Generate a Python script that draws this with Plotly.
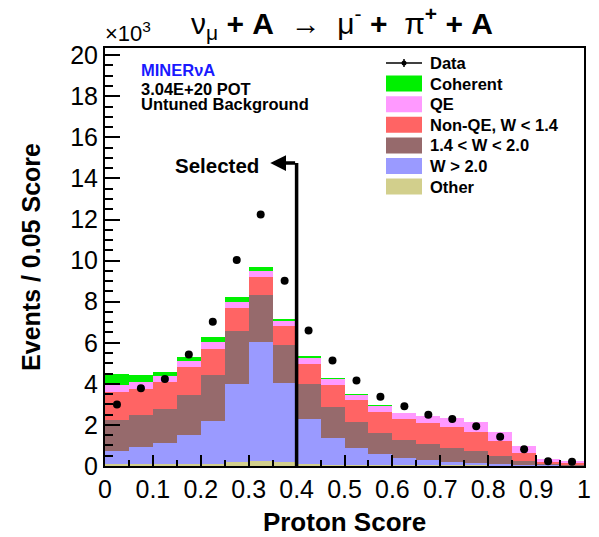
import plotly.graph_objects as go

# ---- data (values in units of 10^3 events per 0.05 score) ----
bin_centers = [0.025, 0.075, 0.125, 0.175, 0.225, 0.275, 0.325, 0.375, 0.425, 0.475,
               0.525, 0.575, 0.625, 0.675, 0.725, 0.775, 0.825, 0.875, 0.925, 0.975]
bin_width = 0.05

other =      [0.08, 0.08, 0.08, 0.10, 0.12, 0.18, 0.25, 0.18, 0.10, 0.07,
              0.06, 0.05, 0.05, 0.04, 0.04, 0.03, 0.03, 0.02, 0.02, 0.02]
w_gt_20 =    [0.65, 0.86, 1.06, 1.41, 2.09, 3.80, 5.81, 3.85, 2.21, 1.31,
              0.83, 0.54, 0.36, 0.25, 0.16, 0.10, 0.05, 0.04, 0.03, 0.02]
w_14_20 =    [1.51, 1.55, 1.64, 1.95, 2.23, 2.61, 2.25, 1.87, 1.69, 1.51,
              1.26, 1.04, 0.86, 0.78, 0.69, 0.60, 0.42, 0.18, 0.08, 0.05]
nonqe_lt14 = [1.34, 1.27, 1.30, 1.35, 1.28, 1.10, 0.89, 0.90, 0.98, 1.06,
              1.04, 1.00, 1.02, 1.03, 1.01, 0.94, 0.70, 0.39, 0.08, 0.08]
qe =         [0.37, 0.32, 0.28, 0.29, 0.31, 0.31, 0.31, 0.27, 0.29, 0.31,
              0.29, 0.30, 0.31, 0.32, 0.43, 0.46, 0.47, 0.35, 0.12, 0.07]
coherent =   [0.54, 0.33, 0.23, 0.22, 0.23, 0.21, 0.16, 0.10, 0.04, 0.02,
              0.01, 0.01, 0.00, 0.00, 0.00, 0.00, 0.00, 0.00, 0.00, 0.00]
data_vals =  [2.99, 3.79, 4.24, 5.43, 7.02, 10.03, 12.24, 9.02, 6.60, 5.14,
              4.16, 3.37, 2.91, 2.49, 2.29, 1.94, 1.43, 0.81, 0.23, 0.21]

components = [
    ("Other", other, "#d2cf8c"),
    ("W > 2.0", w_gt_20, "#9a9aff"),
    ("1.4 < W < 2.0", w_14_20, "#966a6c"),
    ("Non-QE, W < 1.4", nonqe_lt14, "#ff6464"),
    ("QE", qe, "#ff99ff"),
    ("Coherent", coherent, "#00f000"),
]
legend_order = ["Coherent", "QE", "Non-QE, W < 1.4", "1.4 < W < 2.0", "W > 2.0", "Other"]

cut_value = 0.4
arrow_end = 0.345
arrow_height = 14.75

FONT = "Liberation Sans, Arial, Helvetica, sans-serif"

fig = go.Figure()
for name, vals, col in components:
    fig.add_trace(go.Bar(x=bin_centers, y=vals, width=bin_width, name=name,
                         marker=dict(color=col, line=dict(width=0)),
                         showlegend=False))

fig.add_trace(go.Scatter(x=bin_centers, y=data_vals, mode="markers", name="Data",
                         marker=dict(color="black", size=8), showlegend=False))

# selection line + arrow
fig.add_shape(type="line", x0=cut_value, x1=cut_value, y0=0, y1=arrow_height,
              xref="x", yref="y", line=dict(color="black", width=3.5))
fig.add_annotation(x=arrow_end, y=arrow_height, ax=cut_value, ay=arrow_height,
                   xref="x", yref="y", axref="x", ayref="y", text="",
                   showarrow=True, arrowhead=2, arrowsize=0.9, arrowwidth=3.5,
                   arrowcolor="black")
fig.add_annotation(x=arrow_end - 0.02, y=arrow_height - 0.1, xref="x", yref="y",
                   text="<b>Selected</b>", showarrow=False, xanchor="right",
                   yanchor="middle", font=dict(size=20.5, color="black", family=FONT))

# manual legend (pixel positions via paper coords)
W, H = 599, 537
ml, mr, mt, mb = 105, 15, 48, 71
pw, ph = W - ml - mr, H - mt - mb

def px(xp):
    return (xp - ml) / pw

def py(yp):
    return 1 - (yp - mt) / ph

leg_x0, leg_x1, txt_x = 386, 422, 428
row0, dy = 63, 20.6
LEGFS = 16.5
# Data entry
fig.add_shape(type="line", xref="paper", yref="paper", x0=px(leg_x0), x1=px(leg_x1),
              y0=py(row0), y1=py(row0), line=dict(color="black", width=1.5))
fig.add_shape(type="line", xref="paper", yref="paper", x0=px(404), x1=px(404),
              y0=py(row0 - 4), y1=py(row0 + 4), line=dict(color="black", width=1.5))
fig.add_shape(type="circle", xref="paper", yref="paper", x0=px(401.5), x1=px(406.5),
              y0=py(row0 - 2.5), y1=py(row0 + 2.5), fillcolor="black",
              line=dict(color="black", width=0))
fig.add_annotation(x=px(txt_x), y=py(row0), xref="paper", yref="paper", text="<b>Data</b>",
                   showarrow=False, xanchor="left", yanchor="middle",
                   font=dict(size=LEGFS, color="black", family=FONT))
colmap = {n: c for n, _, c in components}
for i, name in enumerate(legend_order):
    yc = row0 + dy * (i + 1)
    fig.add_shape(type="rect", xref="paper", yref="paper", x0=px(leg_x0), x1=px(leg_x1),
                  y0=py(yc - 8), y1=py(yc + 8), fillcolor=colmap[name],
                  line=dict(width=0))
    fig.add_annotation(x=px(txt_x), y=py(yc), xref="paper", yref="paper",
                       text="<b>%s</b>" % name.replace("<", "&lt;").replace(">", "&gt;"),
                       showarrow=False, xanchor="left", yanchor="middle",
                       font=dict(size=LEGFS, color="black", family=FONT))

# info text
fig.add_annotation(x=px(139), y=py(70), xref="paper", yref="paper", text="<b>MINERνA</b>",
                   showarrow=False, xanchor="left", yanchor="middle",
                   font=dict(size=16.5, color="#1a1aff", family=FONT))
fig.add_annotation(x=px(139), y=py(88.5), xref="paper", yref="paper", text="<b>3.04E+20 POT</b>",
                   showarrow=False, xanchor="left", yanchor="middle",
                   font=dict(size=16.5, color="black", family=FONT))
fig.add_annotation(x=px(139), y=py(104), xref="paper", yref="paper",
                   text="<b>Untuned Background</b>",
                   showarrow=False, xanchor="left", yanchor="middle",
                   font=dict(size=16.5, color="black", family=FONT))

# x10^3
fig.add_annotation(x=px(103), y=py(32), xref="paper", yref="paper", text="×10<sup>3</sup>",
                   showarrow=False, xanchor="left", yanchor="middle",
                   font=dict(size=22, color="black", family=FONT))

# title
fig.add_annotation(x=px(342), y=py(23), xref="paper", yref="paper",
                   text="ν<sub>μ</sub> <b>+ A</b>  →  μ<sup>-</sup> <b>+</b>  π<sup><b>+</b></sup> <b>+ A</b>",
                   showarrow=False, xanchor="center", yanchor="middle",
                   font=dict(size=30, color="black", family=FONT))

fig.update_layout(
    width=W, height=H,
    margin=dict(l=ml, r=mr, t=mt, b=mb, pad=0),
    barmode="stack", bargap=0,
    plot_bgcolor="white", paper_bgcolor="white",
    font=dict(family=FONT, color="black"),
    showlegend=False,
    xaxis=dict(range=[0, 1], dtick=0.1, tick0=0, ticks="inside", ticklen=11,
               tickwidth=1.5, tickcolor="black", showgrid=False, zeroline=False,
               showline=True, linecolor="black", linewidth=2, mirror=True,
               automargin=False,
               tickfont=dict(size=25, family=FONT), tickformat="~g",
               minor=dict(dtick=0.05, ticks="inside", ticklen=6, tickwidth=1.5,
                          tickcolor="black", showgrid=False),
               title=dict(text="<b>Proton Score</b>", font=dict(size=26, family=FONT),
                          standoff=12)),
    yaxis=dict(range=[0, 20.35], dtick=2, tick0=0, ticks="inside", ticklen=15,
               tickwidth=1.5, tickcolor="black", showgrid=False, zeroline=False,
               showline=True, linecolor="black", linewidth=2, mirror=True,
               automargin=False,
               tickfont=dict(size=25, family=FONT),
               minor=dict(dtick=0.5, ticks="inside", ticklen=8, tickwidth=1.5,
                          tickcolor="black", showgrid=False),
               title=dict(text="<b>Events / 0.05 Score</b>", font=dict(size=25, family=FONT),
                          standoff=22)),
)

fig.write_html("out.html")
